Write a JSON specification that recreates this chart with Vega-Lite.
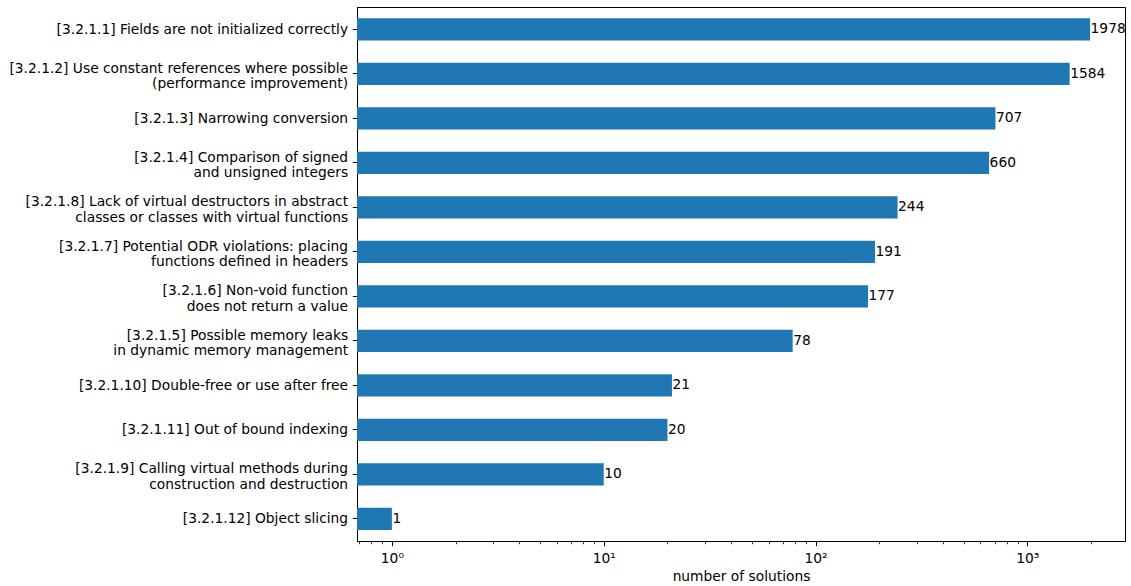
{
  "$schema": "https://vega.github.io/schema/vega-lite/v6.json",
  "width": 768,
  "height": 534,
  "autosize": {"type": "none"},
  "padding": {"left": 357, "top": 7, "right": 6, "bottom": 45},
  "background": "white",
  "config": {
    "font": "DejaVu Sans",
    "view": {"stroke": "black", "strokeWidth": 1},
    "axis": {
      "grid": false,
      "domainColor": "black",
      "domainWidth": 1,
      "tickColor": "black",
      "tickWidth": 1,
      "tickSize": 4.7,
      "labelColor": "black",
      "labelFontSize": 13.8,
      "labelPadding": 4.7,
      "titleColor": "black",
      "titleFontSize": 13.8,
      "titleFontWeight": "normal"
    }
  },
  "data": {
    "values": [
      {"issue": "[3.2.1.1] Fields are not initialized correctly", "solutions": 1978},
      {"issue": "[3.2.1.2] Use constant references where possible\n(performance improvement)", "solutions": 1584},
      {"issue": "[3.2.1.3] Narrowing conversion", "solutions": 707},
      {"issue": "[3.2.1.4] Comparison of signed\u00a0\nand unsigned integers", "solutions": 660},
      {"issue": "[3.2.1.8] Lack of virtual destructors in abstract\nclasses or classes with virtual functions", "solutions": 244},
      {"issue": "[3.2.1.7] Potential ODR violations: placing\nfunctions defined in headers", "solutions": 191},
      {"issue": "[3.2.1.6] Non-void function\ndoes not return a value", "solutions": 177},
      {"issue": "[3.2.1.5] Possible memory leaks\nin dynamic memory management", "solutions": 78},
      {"issue": "[3.2.1.10] Double-free or use after free", "solutions": 21},
      {"issue": "[3.2.1.11] Out of bound indexing", "solutions": 20},
      {"issue": "[3.2.1.9] Calling virtual methods during\nconstruction and destruction", "solutions": 10},
      {"issue": "[3.2.1.12] Object slicing", "solutions": 1}
    ]
  },
  "encoding": {
    "y": {
      "field": "issue",
      "type": "nominal",
      "sort": null,
      "scale": {"paddingInner": 0.5, "paddingOuter": 0.25},
      "axis": {
        "title": null,
        "labelExpr": "split(datum.label, '\\n')",
        "labelLimit": 400,
        "labelLineHeight": 15.5,
        "labelOffset": {
          "condition": {"test": "indexof(datum.value, '\\n') >= 0", "value": -5},
          "value": 0.5
        }
      }
    },
    "x": {
      "field": "solutions",
      "type": "quantitative",
      "scale": {"type": "log", "domain": [0.6844, 2891], "nice": false},
      "axis": {
        "title": "number of solutions",
        "titlePadding": 4,
        "labelPadding": 6,
        "values": [0.7, 0.8, 0.9, 1, 2, 3, 4, 5, 6, 7, 8, 9, 10, 20, 30, 40, 50, 60, 70, 80, 90, 100, 200, 300, 400, 500, 600, 700, 800, 900, 1000, 2000],
        "labelExpr": "datum.value == 1 ? '10⁰' : datum.value == 10 ? '10¹' : datum.value == 100 ? '10²' : datum.value == 1000 ? '10³' : ''",
        "labelFlush": false,
        "labelOverlap": false,
        "tickSize": {
          "condition": {"test": "datum.value == 1 || datum.value == 10 || datum.value == 100 || datum.value == 1000", "value": 4.7},
          "value": 2.7
        },
        "tickWidth": {
          "condition": {"test": "datum.value == 1 || datum.value == 10 || datum.value == 100 || datum.value == 1000", "value": 1},
          "value": 0.8
        }
      }
    }
  },
  "layer": [
    {
      "mark": {"type": "bar", "color": "#1f77b4"},
      "encoding": {"x2": {"datum": 0.6844}}
    },
    {
      "mark": {"type": "text", "align": "left", "baseline": "middle", "dx": 0.5, "fontSize": 13.8, "color": "black"},
      "encoding": {"text": {"field": "solutions", "type": "quantitative"}}
    }
  ]
}
